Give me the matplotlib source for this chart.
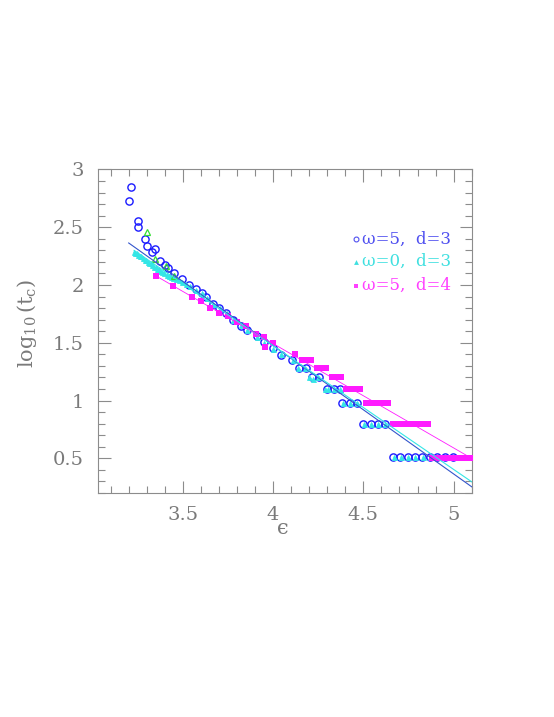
import matplotlib
matplotlib.use("Agg")
import matplotlib.pyplot as plt
from matplotlib.ticker import MultipleLocator

plt.rcParams["font.family"] = ["DejaVu Serif"]
plt.rcParams["mathtext.fontset"] = "dejavuserif"

# omega=5, d=3 (open blue circles)
blue_x = [3.200, 3.213, 3.250, 3.253, 3.290, 3.300, 3.330, 3.348, 3.374, 3.403,
          3.418, 3.453, 3.494, 3.535, 3.572, 3.606, 3.630, 3.667, 3.703, 3.740,
          3.778, 3.822, 3.856, 3.911, 3.948, 4.000, 4.042, 4.106, 4.142, 4.180,
          4.217, 4.253, 4.300, 4.337, 4.370, 4.383, 4.426, 4.463, 4.500, 4.540,
          4.580, 4.620, 4.665, 4.705, 4.745, 4.786, 4.827, 4.868, 4.910, 4.952,
          4.995]
blue_y = [2.73, 2.85, 2.55, 2.50, 2.40, 2.335, 2.285, 2.31, 2.205, 2.175,
          2.15, 2.10, 2.048, 2.003, 1.962, 1.93, 1.896, 1.84, 1.80, 1.757,
          1.70, 1.647, 1.613, 1.555, 1.503, 1.454, 1.397, 1.353, 1.28, 1.28,
          1.20, 1.20, 1.10, 1.10, 1.10, 0.98, 0.98, 0.98, 0.80, 0.80,
          0.80, 0.80, 0.51, 0.51, 0.51, 0.51, 0.51, 0.51, 0.51, 0.51,
          0.51]

# omega=0, d=3 (small cyan triangles)
cyan_x = [3.228, 3.236, 3.245, 3.252, 3.262, 3.270, 3.279, 3.288, 3.296, 3.305,
          3.314, 3.322, 3.331, 3.340, 3.349, 3.357, 3.366, 3.375, 3.386, 3.398,
          3.410, 3.422, 3.436, 3.448, 3.462, 3.480, 3.498, 3.520, 3.540, 3.575,
          3.608, 3.632, 3.668, 3.705, 3.742, 3.780, 3.824, 3.858, 3.912, 3.950,
          4.002, 4.044, 4.108, 4.140, 4.178, 4.200, 4.222, 4.250, 4.285, 4.305,
          4.340, 4.368, 4.385, 4.428, 4.465, 4.502, 4.542, 4.582, 4.622, 4.667,
          4.707, 4.747, 4.788, 4.829, 4.870, 4.905]
cyan_y = [2.29, 2.28, 2.28, 2.26, 2.25, 2.25, 2.23, 2.22, 2.22, 2.20,
          2.19, 2.19, 2.17, 2.16, 2.16, 2.14, 2.14, 2.12, 2.11, 2.10,
          2.09, 2.08, 2.07, 2.06, 2.05, 2.04, 2.03, 2.01, 1.99, 1.96,
          1.93, 1.89, 1.84, 1.80, 1.76, 1.70, 1.65, 1.61, 1.55, 1.50,
          1.45, 1.40, 1.35, 1.28, 1.28, 1.20, 1.19, 1.20, 1.10, 1.10,
          1.10, 1.10, 0.98, 0.98, 0.98, 0.80, 0.80, 0.80, 0.80, 0.51,
          0.51, 0.51, 0.51, 0.51, 0.51, 0.51]

# a few green open triangles
green_x = [3.300, 3.347, 3.407, 3.453]
green_y = [2.46, 2.226, 2.162, 2.08]

# omega=5, d=4 (filled magenta squares)
mag_x = [3.350, 3.448, 3.550, 3.600, 3.652, 3.700, 3.750, 3.800, 3.852, 3.906,
         3.948, 3.953, 4.000, 4.124, 4.160, 4.185, 4.210, 4.245, 4.270, 4.295,
         4.325, 4.350, 4.375, 4.405, 4.430, 4.455, 4.480, 4.515, 4.540, 4.565,
         4.590, 4.615, 4.635, 4.665, 4.690, 4.715, 4.740, 4.765, 4.790, 4.815,
         4.840, 4.860, 4.880, 4.905, 4.930, 4.955, 4.980, 5.005, 5.030, 5.055,
         5.080, 5.100]
mag_y = [2.08, 1.995, 1.90, 1.864, 1.80, 1.757, 1.734, 1.676, 1.647, 1.578,
         1.55, 1.463, 1.497, 1.405, 1.347, 1.347, 1.347, 1.28, 1.28, 1.28,
         1.20, 1.20, 1.20, 1.10, 1.10, 1.10, 1.10, 0.98, 0.98, 0.98,
         0.98, 0.98, 0.98, 0.80, 0.80, 0.80, 0.80, 0.80, 0.80, 0.80,
         0.80, 0.80, 0.50, 0.50, 0.50, 0.50, 0.50, 0.50, 0.50, 0.50,
         0.50, 0.50]

# fitted lines (end points)
blue_fit_x = [3.20, 5.10]
blue_fit_y = [2.364, 0.254]
cyan_fit_x = [3.23, 5.10]
cyan_fit_y = [2.30, 0.297]
mag_fit_x = [3.35, 5.10]
mag_fit_y = [2.08, 0.50]

labels = ["ω=5,  d=3", "ω=0,  d=3", "ω=5,  d=4"]

BLUE = "#1a1aff"
CYAN = "#33e6e6"
MAG = "#ff1aff"
GRAY = "#8c8c8c"

fig = plt.figure(figsize=(5.54, 7.17), dpi=100)
ax = fig.add_axes([0.1769, 0.3124, 0.6745, 0.4512])

ax.plot(mag_x, mag_y, "s", color=MAG, ms=4.2, mew=0, zorder=3)
ax.plot(blue_x, blue_y, "o", mfc="none", mec=BLUE, ms=5.2, mew=1.0, zorder=2)
ax.plot(cyan_x, cyan_y, "^", color=CYAN, ms=3.6, mew=0.6, zorder=2.5)
ax.plot(green_x, green_y, "^", mfc="none", mec="#33dd33", ms=4.5, mew=0.9, zorder=2.6)

ax.plot(blue_fit_x, blue_fit_y, "-", color="#3355cc", lw=0.8, zorder=4)
ax.plot(cyan_fit_x, cyan_fit_y, "-", color=CYAN, lw=0.8, zorder=4)
ax.plot(mag_fit_x, mag_fit_y, "-", color=MAG, lw=0.6, zorder=4)

# legend drawn by hand
leg_colors = ["#5050f0", "#40e0e0", "#ff40ff"]
leg_markers = ["o", "^", "s"]
leg_y = [0.784, 0.715, 0.641]
for lab, c, m, yy in zip(labels, leg_colors, leg_markers, leg_y):
    if m == "o":
        ax.plot(0.690, yy, m, mfc="none", mec=c, ms=3.5, mew=0.8, transform=ax.transAxes)
    else:
        ax.plot(0.690, yy, m, color=c, ms=3.5, mew=0, transform=ax.transAxes)
    ax.text(0.706, yy, lab, color=c, fontsize=12, va="center", ha="left",
            transform=ax.transAxes)

ax.set_xlim(3.03, 5.1)
ax.set_ylim(0.2, 3.0)
ax.xaxis.set_major_locator(MultipleLocator(0.5))
ax.xaxis.set_minor_locator(MultipleLocator(0.1))
ax.yaxis.set_major_locator(MultipleLocator(0.5))
ax.yaxis.set_minor_locator(MultipleLocator(0.1))
ax.set_xticks([3.5, 4, 4.5, 5])
ax.set_xticklabels(["3.5", "4", "4.5", "5"])
ax.set_yticks([0.5, 1, 1.5, 2, 2.5, 3])
ax.set_yticklabels(["0.5", "1", "1.5", "2", "2.5", "3"])

ax.tick_params(which="both", direction="in", top=True, right=True, color=GRAY,
               labelcolor="#7a7a7a", labelsize=14, width=0.8)
ax.tick_params(which="major", length=9)
ax.tick_params(which="minor", length=5)
ax.tick_params(axis="x", pad=9)
ax.tick_params(axis="y", pad=10)
for s in ax.spines.values():
    s.set_color(GRAY)
    s.set_linewidth(0.8)

ax.set_xlabel("ϵ", fontsize=15, color="#7a7a7a", va="center")
ax.xaxis.set_label_coords(0.495, -0.11)
ax.set_ylabel(r"$\log_{10}(\mathrm{t_c})$", fontsize=15, color="#7a7a7a", va="center")
ax.yaxis.set_label_coords(-0.19, 0.525)

fig.savefig("out.png", dpi=100)
